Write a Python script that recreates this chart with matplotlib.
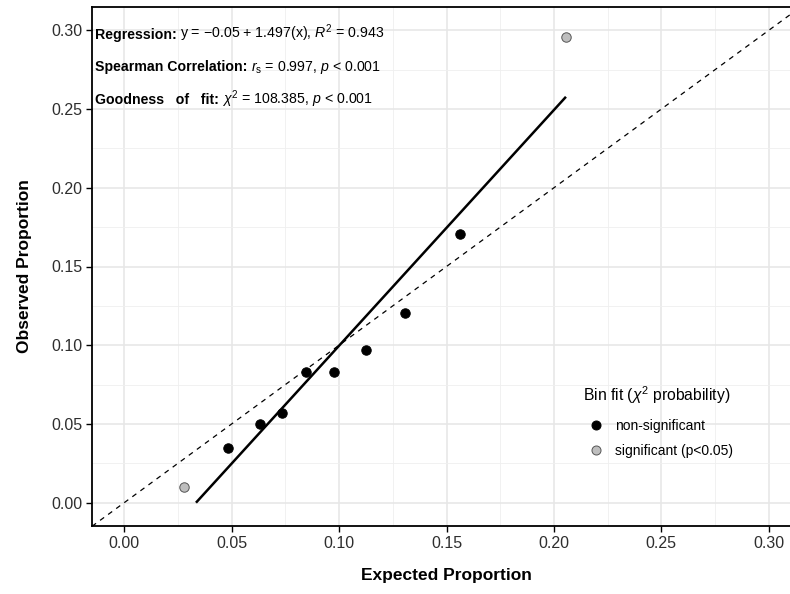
import matplotlib
matplotlib.use("Agg")
import matplotlib.pyplot as plt
import numpy as np
from matplotlib.lines import Line2D
from matplotlib.ticker import MultipleLocator

plt.rcParams['font.family'] = ['Liberation Sans', 'DejaVu Sans']
plt.rcParams['mathtext.fontset'] = 'custom'
plt.rcParams['mathtext.rm'] = 'Liberation Sans'
plt.rcParams['mathtext.it'] = 'Liberation Sans:italic'
plt.rcParams['mathtext.bf'] = 'Liberation Sans:bold'

# ---- data ----
expected = [0.028, 0.0485, 0.063, 0.0735, 0.0846, 0.0977, 0.1126, 0.1307, 0.1561, 0.2056]
observed = [0.010, 0.035, 0.050, 0.057, 0.083, 0.083, 0.097, 0.1206, 0.1705, 0.2957]
significant = [True, False, False, False, False, False, False, False, False, True]
reg_intercept = -0.05
reg_slope = 1.497
tick_values = [0.00, 0.05, 0.10, 0.15, 0.20, 0.25, 0.30]
tick_labels = ["0.00", "0.05", "0.10", "0.15", "0.20", "0.25", "0.30"]
annot_bold = ["Regression:", "Spearman Correlation:", "Goodness   of   fit:"]
annot_rest = [
    r"y = $-$0.05 + 1.497(x), $R^2$ = 0.943",
    r"$r_\mathrm{s}$ = 0.997, $p$ < 0.001",
    r"$\chi^2$ = 108.385, $p$ < 0.001",
]
legend_title = r"Bin fit ($\chi^2$ probability)"
legend_labels = ["non-significant", "significant (p<0.05)"]

W, H = 790, 594
fig = plt.figure(figsize=(W / 100, H / 100), dpi=100)
left, right, bottom, top = 92, 801, 526.3, 6.7
ax = fig.add_axes([left / W, 1 - bottom / H, (right - left) / W, (bottom - top) / H])

lim = (-0.015, 0.315)
ax.set_xlim(lim)
ax.set_ylim(lim)

# grid
ax.xaxis.set_major_locator(MultipleLocator(0.05))
ax.yaxis.set_major_locator(MultipleLocator(0.05))
ax.xaxis.set_minor_locator(MultipleLocator(0.025))
ax.yaxis.set_minor_locator(MultipleLocator(0.025))
ax.grid(which='major', color='#E6E6E6', linewidth=1.1, zorder=0)
ax.grid(which='minor', color='#EFEFEF', linewidth=0.6, zorder=0)
ax.tick_params(which='minor', length=0)
ax.set_axisbelow(True)

# identity line
ax.plot(lim, lim, linestyle=(0, (4, 4)), color='black', linewidth=0.9, zorder=2)

# regression line (clipped at y >= 0)
x0 = max(min(expected), -reg_intercept / reg_slope)
x1 = max(expected)
xs = np.array([x0, x1])
ax.plot(xs, reg_intercept + reg_slope * xs, color='black', linewidth=1.8,
        solid_capstyle='butt', zorder=3)

# points
for e, o, s in zip(expected, observed, significant):
    if s:
        ax.plot(e, o, 'o', markersize=6.8, markerfacecolor='#BEBEBE',
                markeredgecolor='#555555', markeredgewidth=0.7, zorder=4)
    else:
        ax.plot(e, o, 'o', markersize=6.8, markerfacecolor='black',
                markeredgecolor='black', markeredgewidth=0.7, zorder=4)

ax.set_xticks(tick_values)
ax.set_xticklabels(tick_labels)
ax.set_yticks(tick_values)
ax.set_yticklabels(tick_labels)
ax.tick_params(which='major', direction='out', length=4, width=1.0,
               color='black', labelsize=11.5, labelcolor='#2E2E2E', pad=3)

for sp in ax.spines.values():
    sp.set_linewidth(1.3)
    sp.set_color('black')

ax.set_xlabel("Expected Proportion", fontsize=12.5, fontweight='bold', labelpad=12)
ax.set_ylabel("Observed Proportion", fontsize=12.5, fontweight='bold', labelpad=14)

# annotations: bold lead-in followed by regular text on the same baseline
renderer = fig.canvas.get_renderer()
for i, (b, r) in enumerate(zip(annot_bold, annot_rest)):
    yb = 1 - (38.5 + 32.5 * i) / H
    tb = fig.text(95 / W, yb, b, fontsize=10.2, fontweight='bold',
                  ha='left', va='baseline', color='black')
    wpx = tb.get_window_extent(renderer).width
    fig.text((95 + wpx + 3.5) / W, yb, r, fontsize=10.2,
             ha='left', va='baseline', color='black')

# legend
fig.text(583 / W, 1 - 395 / H, legend_title, fontsize=11.3, ha='left',
         va='center', color='black')
handles = [
    Line2D([], [], marker='o', linestyle='none', markersize=6.5,
           markerfacecolor='black', markeredgecolor='black', markeredgewidth=0.7),
    Line2D([], [], marker='o', linestyle='none', markersize=6.5,
           markerfacecolor='#BEBEBE', markeredgecolor='#555555', markeredgewidth=0.7),
]
leg = ax.legend(handles, legend_labels, frameon=False,
                loc='upper left', bbox_to_anchor=(583 / W, 1 - 415 / H),
                bbox_transform=fig.transFigure, fontsize=10,
                handletextpad=0.8, labelspacing=0.75, borderpad=0.3,
                borderaxespad=0, handlelength=1.2)

fig.savefig("out.png", dpi=100)
